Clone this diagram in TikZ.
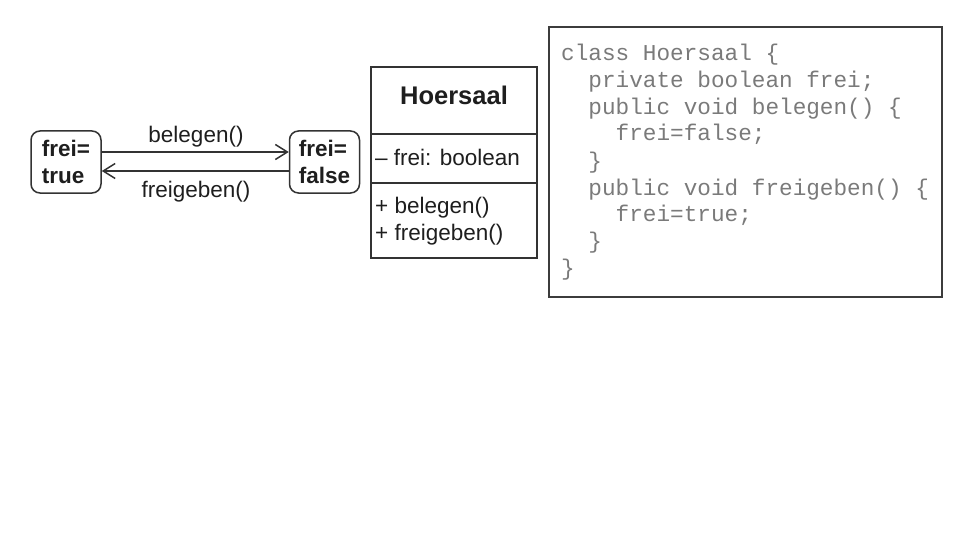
\documentclass[tikz,border=0pt]{standalone}
\usepackage{fontspec}
\setmainfont{Liberation Sans}
\setmonofont{Liberation Mono}
\usetikzlibrary{arrows.meta}
\definecolor{linec}{HTML}{333333}
\definecolor{textc}{HTML}{1E1E1E}
\definecolor{codec}{HTML}{7A7A7A}
\definecolor{codeframe}{HTML}{3C3C3C}
\begin{document}
\begin{tikzpicture}[x=1pt,y=-1pt,
  every node/.style={inner sep=0pt, text=textc},
  sans/.style={font=\fontsize{22.5}{27}\selectfont},
  sansb/.style={font=\fontsize{22.5}{27}\selectfont\bfseries},
  statebox/.style={draw=linec, line width=1.5pt, rounded corners=9pt,
    minimum width=70pt, minimum height=62pt, align=left, sansb},
  classbox/.style={draw=linec, line width=1.5pt, minimum width=166pt, minimum height=191pt},
  codebox/.style={draw=codeframe, line width=2pt, minimum width=393pt, minimum height=270pt},
  codeline/.style={anchor=base west, text=codec, font=\fontsize{22.7}{26.7}\selectfont\ttfamily},
  trans/.style={draw=linec, line width=1.5pt, -{Straight Barb[length=12pt,width=15pt,line width=1.5pt]}}
]
\useasboundingbox (0,0) rectangle (960,540);

% states
\node[statebox] (t) at (66,162) {frei=\\true};
\node[statebox] (f) at (324.5,162) {frei=\\false};

\draw[trans] (t.east |- 0,152) -- (f.west |- 0,152);
\draw[trans] (f.west |- 0,171) -- (t.east |- 0,171);
\node[sans, anchor=base] (lb) at (196,143) {belegen()};
\node[sans, anchor=base] (lf) at (196,197) {freigeben()};

% class
\node[classbox] (cls) at (454,162.5) {};
\draw[draw=linec, line width=1.5pt] (cls.west |- 0,134) -- (cls.east |- 0,134);
\draw[draw=linec, line width=1.5pt] (cls.west |- 0,183) -- (cls.east |- 0,183);
\node[anchor=base, font=\fontsize{25.5}{30}\selectfont\bfseries] (cname) at (454,105) {Hoersaal};
\node[sans, anchor=base west] (attr) at (375,165) {– frei: boolean};
\node[sans, anchor=base west] (m1) at (375,213) {+ belegen()};
\node[sans, anchor=base west] (m2) at (375,240) {+ freigeben()};

% code
\node[codebox] (code) at (745,162) {};
\node[codeline] (c1) at (561,61) {class Hoersaal \{};
\node[codeline] (c2) at (561,88) {\phantom{xx}private boolean frei;};
\node[codeline] (c3) at (561,115) {\phantom{xx}public void belegen() \{};
\node[codeline] (c4) at (561,141) {\phantom{xxxx}frei=false;};
\node[codeline] (c5) at (561,168) {\phantom{xx}\}};
\node[codeline] (c6) at (561,195) {\phantom{xx}public void freigeben() \{};
\node[codeline] (c7) at (561,221) {\phantom{xxxx}frei=true;};
\node[codeline] (c8) at (561,248) {\phantom{xx}\}};
\node[codeline] (c9) at (561,275) {\}};
\end{tikzpicture}
\end{document}
